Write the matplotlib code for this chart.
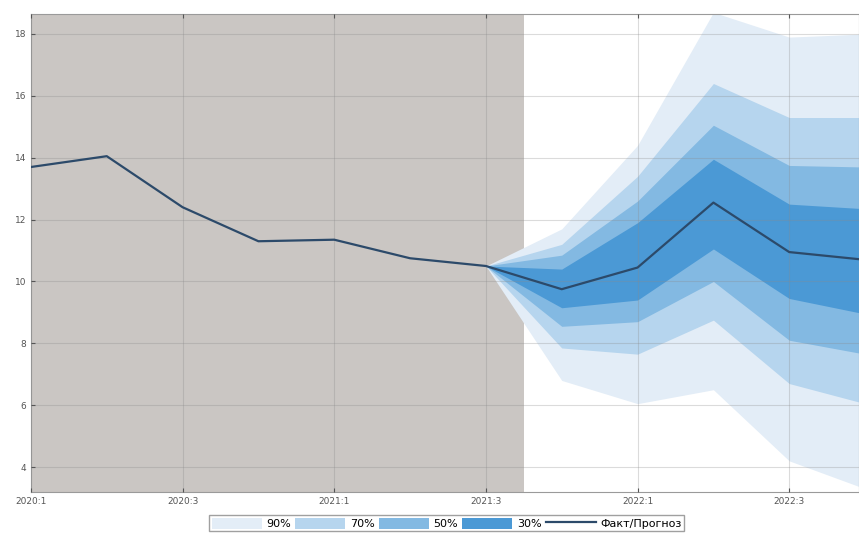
import numpy as np
import matplotlib
matplotlib.use("Agg")
from matplotlib import pyplot as plt
from matplotlib.patches import Patch
from matplotlib.lines import Line2D

# quarters 2020:1 .. 2022:4 (index 0..11)
quarters = ['2020:1', '2020:2', '2020:3', '2020:4', '2021:1', '2021:2',
            '2021:3', '2021:4', '2022:1', '2022:2', '2022:3', '2022:4']
tick_labels = ['2020:1', '2020:3', '2021:1', '2021:3', '2022:1', '2022:3']

# fact / forecast line
central = [13.7, 14.05, 12.4, 11.3, 11.35, 10.75, 10.5, 9.75, 10.45, 12.55, 10.95, 10.7]

# forecast bands start at 2021:3 (index 6)
fan_start = 6
upper_90 = [10.5, 11.7, 14.4, 18.7, 17.9, 18.0]
upper_70 = [10.5, 11.2, 13.4, 16.4, 15.3, 15.3]
upper_50 = [10.5, 10.85, 12.6, 15.05, 13.75, 13.7]
upper_30 = [10.5, 10.4, 11.9, 13.95, 12.5, 12.35]
lower_30 = [10.5, 9.15, 9.4, 11.05, 9.45, 8.95]
lower_50 = [10.5, 8.55, 8.7, 10.0, 8.1, 7.65]
lower_70 = [10.5, 7.85, 7.65, 8.75, 6.7, 6.05]
lower_90 = [10.5, 6.8, 6.05, 6.5, 4.2, 3.3]

band_labels = ['90%', '70%', '50%', '30%']
band_colors = ['#e3edf7', '#b6d5ee', '#83b9e2', '#4b99d5']

fig = plt.figure(figsize=(8.59, 5.34), dpi=100)
ax = fig.add_axes([0.036, 0.079, 0.964, 0.895])

x = np.arange(len(central))
xf = x[fan_start:]

# history shading
ax.axvspan(-1, fan_start + 0.5, color='#cac6c3', lw=0, zorder=0)

bands = [(lower_90, upper_90), (lower_70, upper_70), (lower_50, upper_50), (lower_30, upper_30)]
for (lo, hi), col in zip(bands, band_colors):
    ax.fill_between(xf, lo, hi, color=col, lw=0, zorder=1)

ax.plot(x, central, color='#2c4a6a', lw=1.6, zorder=3)

ax.set_xlim(0, 10.92)
ax.set_ylim(3.2, 18.65)
ax.set_yticks(np.arange(4, 19, 2))
ax.set_xticks(np.arange(0, 11, 2))
ax.set_xticklabels(tick_labels)
ax.tick_params(labelsize=6.5, colors='#555555', direction='in', length=3,
               top=True, right=False)
ax.grid(True, color='#8a8a8a', alpha=0.3, lw=0.8, zorder=2)
ax.set_axisbelow(False)
for s in ax.spines.values():
    s.set_color('#9a9a9a')
    s.set_linewidth(0.8)

handles = [Patch(facecolor=c, edgecolor='none', label=l) for c, l in zip(band_colors, band_labels)]
handles.append(Line2D([0], [0], color='#2c4a6a', lw=1.6, label='Факт/Прогноз'))
fig.legend(handles=handles, loc='upper center', bbox_to_anchor=(0.52, 0.035),
           ncol=5, fontsize=8, frameon=True, fancybox=False, edgecolor='#888888',
           handlelength=4.5, handleheight=1.2, handletextpad=0.4, columnspacing=0.4,
           borderpad=0.2, borderaxespad=0)

fig.savefig('out.png', dpi=100)
